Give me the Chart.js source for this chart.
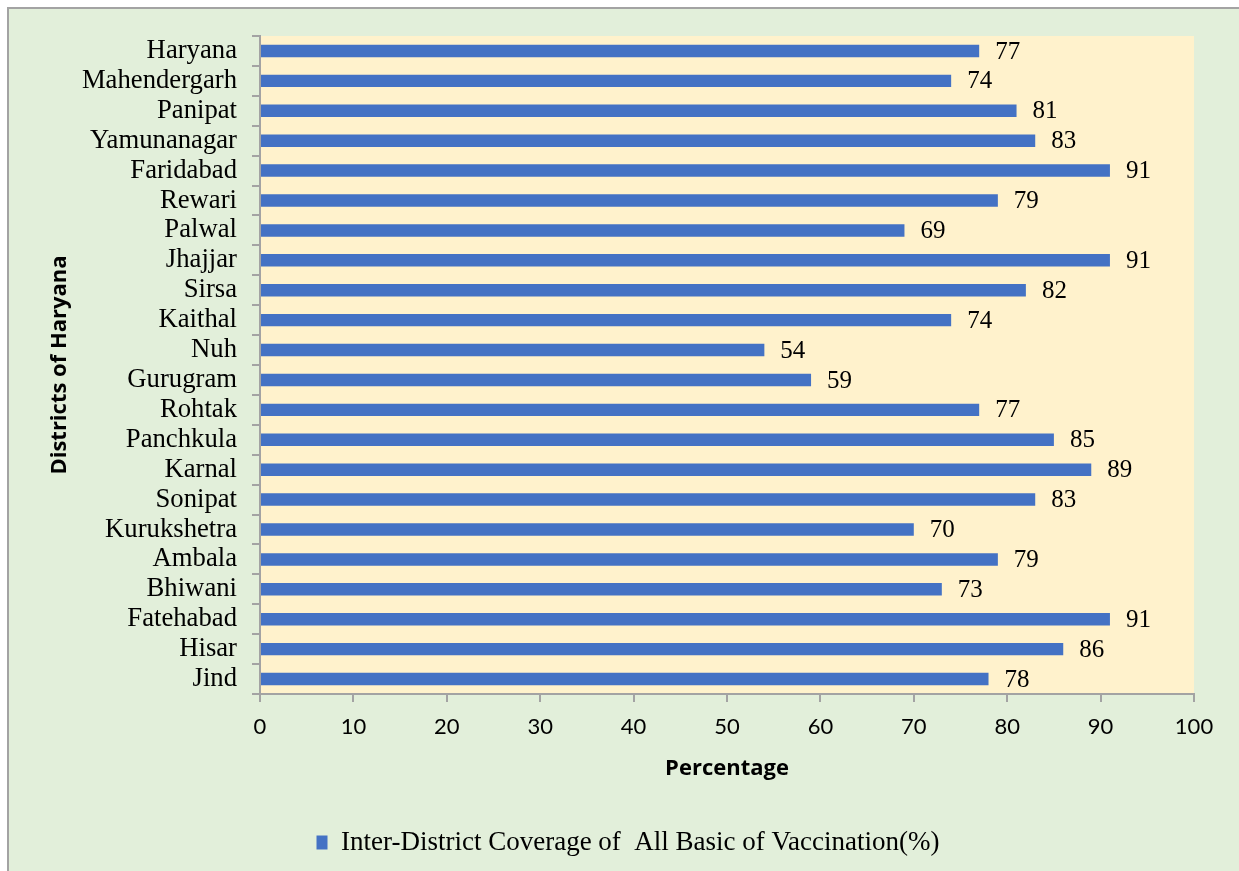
<!DOCTYPE html>
<html>
<head>
<meta charset="utf-8">
<script src="https://cdn.jsdelivr.net/npm/chart.js@4.4.1/dist/chart.umd.min.js"></script>
<style>
    html, body { margin: 0; padding: 0; background: #fff; overflow: hidden; width: 1239px; height: 871px; }
    .moldura {
        position: absolute; left: 7px; top: 7px; width: 1250px; height: 880px;
        background: #e2efda; border: 2px solid #a3a3a3; box-sizing: border-box;
    }
    #grafico { position: absolute; left: 0; top: 0; }
</style>
</head>
<body>
<div class="moldura"></div>
<canvas id="grafico" width="1239" height="871"></canvas>
<script>
// ===== Dados =====
const distritos = [
    'Haryana', 'Mahendergarh', 'Panipat', 'Yamunanagar', 'Faridabad', 'Rewari',
    'Palwal', 'Jhajjar', 'Sirsa', 'Kaithal', 'Nuh', 'Gurugram', 'Rohtak',
    'Panchkula', 'Karnal', 'Sonipat', 'Kurukshetra', 'Ambala', 'Bhiwani',
    'Fatehabad', 'Hisar', 'Jind'
];
const cobertura = [77, 74, 81, 83, 91, 79, 69, 91, 82, 74, 54, 59, 77, 85, 89, 83, 70, 79, 73, 91, 86, 78];
const nomeSerie = 'Inter-District Coverage of  All Basic of Vaccination(%)';
const tituloX = 'Percentage';
const tituloY = 'Districts of Haryana';

const azul = '#4472c4';
const cinzaEixo = '#a3a3a3';
const serifa = '"Liberation Serif", "Times New Roman", serif';

// fundo creme da área do gráfico
const fundoArea = {
    id: 'fundoArea',
    beforeDraw(chart) {
        const { ctx, chartArea: a } = chart;
        ctx.save();
        ctx.fillStyle = '#fff2cc';
        ctx.fillRect(a.left, a.top, a.right - a.left, a.bottom - a.top);
        ctx.restore();
    }
};

// rótulos de valor ao lado das barras
const rotulosBarras = {
    id: 'rotulosBarras',
    afterDatasetsDraw(chart) {
        const ctx = chart.ctx;
        const meta = chart.getDatasetMeta(0);
        ctx.save();
        ctx.font = '25px ' + serifa;
        ctx.fillStyle = '#000';
        ctx.textAlign = 'left';
        ctx.textBaseline = 'middle';
        meta.data.forEach((barra, i) => {
            ctx.fillText(String(cobertura[i]), barra.x + 16, barra.y + 1);
        });
        ctx.restore();
    }
};

new Chart(document.getElementById('grafico'), {
    type: 'bar',
    data: {
        labels: distritos,
        datasets: [{
            label: nomeSerie,
            data: cobertura,
            backgroundColor: azul,
            borderWidth: 0,
            categoryPercentage: 0.8,
            barPercentage: 0.52,
        }]
    },
    options: {
        indexAxis: 'y',
        responsive: false,
        animation: false,
        devicePixelRatio: 1,
        layout: { padding: { left: 62, top: 36, right: 45, bottom: 5 } },
        plugins: {
            legend: {
                position: 'bottom',
                labels: {
                    boxWidth: 11,
                    boxHeight: 14,
                    padding: 10,
                    color: '#000',
                    font: { family: serifa, size: 27 }
                }
            },
            tooltip: { enabled: false }
        },
        scales: {
            x: {
                min: 0,
                max: 100,
                ticks: {
                    stepSize: 10,
                    padding: 12,
                    color: '#000',
                    font: { family: 'Lato, sans-serif', size: 22 }
                },
                grid: {
                    drawOnChartArea: false,
                    drawTicks: true,
                    tickLength: 8,
                    color: cinzaEixo,
                    lineWidth: 2
                },
                border: { color: cinzaEixo, width: 2 },
                title: {
                    display: true,
                    text: tituloX,
                    color: '#000',
                    font: { family: '"Open Sans", sans-serif', size: 22, weight: 'bold' },
                    padding: { top: 0, bottom: 37 }
                },
                afterFit(escala) { escala.height = 125; }
            },
            y: {
                ticks: {
                    autoSkip: false,
                    padding: 15,
                    color: '#000',
                    font: { family: serifa, size: 26.7 }
                },
                grid: {
                    drawOnChartArea: false,
                    drawTicks: true,
                    tickLength: 8,
                    color: cinzaEixo,
                    lineWidth: 2
                },
                border: { color: cinzaEixo, width: 2 },
                title: {
                    display: true,
                    text: tituloY,
                    color: '#000',
                    font: { family: '"Open Sans", sans-serif', size: 22, weight: 'bold' },
                    padding: { top: -15, bottom: 0 }
                },
                afterFit(escala) { escala.width = 198; }
            }
        }
    },
    plugins: [fundoArea, rotulosBarras]
});
</script>
</body>
</html>
